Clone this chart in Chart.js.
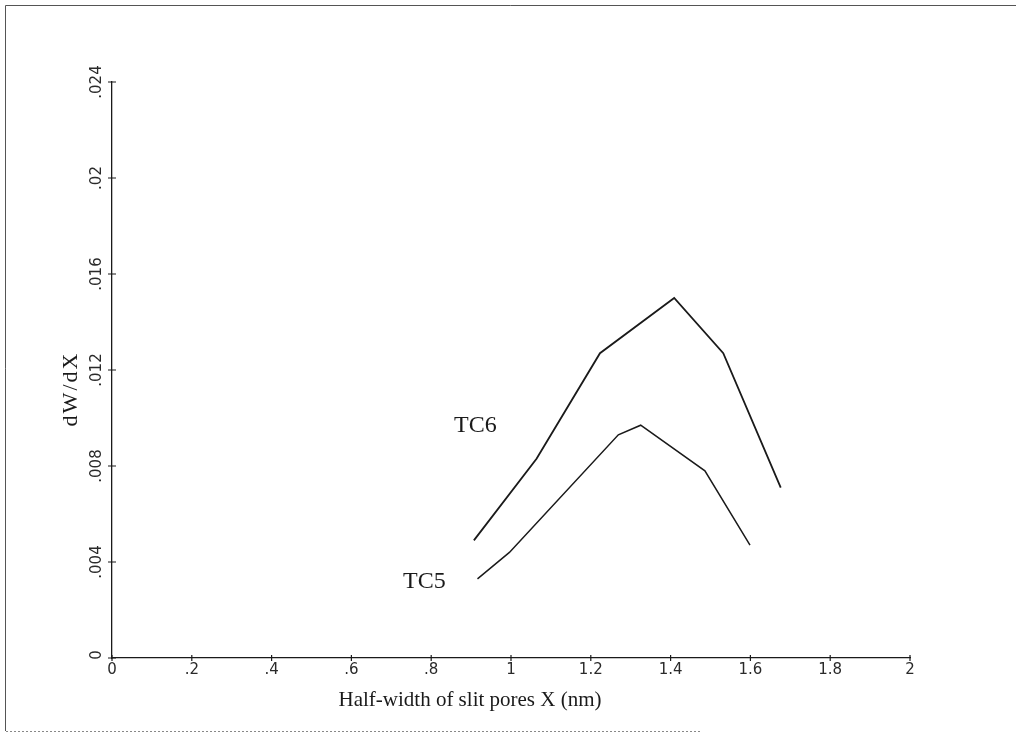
<!DOCTYPE html>
<html>
<head>
<meta charset="utf-8">
<title>dW/dX vs half-width of slit pores</title>
<script src="https://cdn.jsdelivr.net/npm/chart.js@4.4.1/dist/chart.umd.min.js"></script>
<style>
    html, body { margin: 0; padding: 0; background: #fff; }
    #wrap { position: relative; width: 1016px; height: 734px; }
</style>
</head>
<body>
<div id="wrap"><canvas id="chartPores" width="1016" height="734"></canvas></div>
<script>
(function () {
    'use strict';

    // pore-size distribution, two samples
    const TC6_X = [0.907, 1.064, 1.223, 1.409, 1.532, 1.676];
    const TC6_Y = [0.0049, 0.0083, 0.0127, 0.0150, 0.0127, 0.0071];
    const TC5_X = [0.916, 0.996, 1.269, 1.325, 1.486, 1.599];
    const TC5_Y = [0.0033, 0.0044, 0.0093, 0.0097, 0.0078, 0.0047];

    const X_TICKS = [0, 0.2, 0.4, 0.6, 0.8, 1, 1.2, 1.4, 1.6, 1.8, 2];
    const X_TICK_LABELS = ['0', '.2', '.4', '.6', '.8', '1', '1.2', '1.4', '1.6', '1.8', '2'];
    const Y_TICKS = [0, 0.004, 0.008, 0.012, 0.016, 0.02, 0.024];
    const Y_TICK_LABELS = ['0', '.004', '.008', '.012', '.016', '.02', '.024'];

    const INK = '#1a1a1a';
    const TICK_FONT = '15px "DejaVu Sans", sans-serif';
    const SERIF = '"Liberation Serif", "DejaVu Serif", serif';

    function pts(xs, ys) {
        return xs.map((x, i) => ({ x: x, y: ys[i] }));
    }

    // plotter-style axes: crossing tick marks, rotated y labels, titles, frame
    const plotterAxes = {
        id: 'plotterAxes',
        afterDraw(chart) {
            const ctx = chart.ctx;
            const xs = chart.scales.x;
            const ys = chart.scales.y;
            const x0 = xs.getPixelForValue(0);
            const y0 = ys.getPixelForValue(0);

            ctx.save();
            ctx.strokeStyle = INK;
            ctx.fillStyle = INK;
            ctx.lineWidth = 1.2;

            // x ticks
            ctx.beginPath();
            X_TICKS.forEach(v => {
                const px = xs.getPixelForValue(v);
                ctx.moveTo(px, y0 - 3);
                ctx.lineTo(px, y0 + 3);
            });
            // y ticks
            Y_TICKS.forEach(v => {
                const py = ys.getPixelForValue(v);
                ctx.moveTo(x0 - 4, py);
                ctx.lineTo(x0 + 4, py);
            });
            ctx.stroke();

            ctx.font = TICK_FONT;
            ctx.fillStyle = '#2a2a2a';
            ctx.textAlign = 'center';
            ctx.textBaseline = 'middle';
            X_TICKS.forEach((v, i) => {
                ctx.fillText(X_TICK_LABELS[i], xs.getPixelForValue(v), y0 + 12);
            });
            Y_TICKS.forEach((v, i) => {
                ctx.save();
                ctx.translate(x0 - 15, ys.getPixelForValue(v) - (v === 0 ? 3 : 0));
                ctx.rotate(-Math.PI / 2);
                ctx.fillText(Y_TICK_LABELS[i], 0, 0);
                ctx.restore();
            });

            // axis titles
            ctx.fillStyle = INK;
            ctx.font = '21px ' + SERIF;
            ctx.fillText('Half-width of slit pores X (nm)', 470, 700);
            ctx.save();
            ctx.translate(71, 389);
            ctx.rotate(-Math.PI / 2);
            ctx.font = '22px ' + SERIF;
            ctx.letterSpacing = '2px';
            ctx.fillText('dW/dX', 0, 0);
            ctx.restore();

            // series labels
            ctx.font = '24px ' + SERIF;
            ctx.textAlign = 'left';
            ctx.textBaseline = 'alphabetic';
            ctx.fillText('TC6', 454, 432);
            ctx.fillText('TC5', 403, 588);

            // page frame
            ctx.strokeStyle = '#555';
            ctx.lineWidth = 1;
            ctx.beginPath();
            ctx.moveTo(1016, 5.5);
            ctx.lineTo(5.5, 5.5);
            ctx.lineTo(5.5, 731);
            ctx.stroke();
            ctx.setLineDash([2, 2]);
            ctx.strokeStyle = '#888';
            ctx.beginPath();
            ctx.moveTo(6, 731.5);
            ctx.lineTo(700, 731.5);
            ctx.stroke();
            ctx.restore();
        }
    };

    const axisBase = {
        type: 'linear',
        ticks: { display: false },
        grid: { display: false, drawTicks: false },
        border: { display: true, color: INK, width: 1.3 },
        afterFit(scale) {
            if (scale.isHorizontal()) scale.height = 0; else scale.width = 0;
        }
    };

    new Chart(document.getElementById('chartPores'), {
        type: 'line',
        data: {
            datasets: [
                {
                    label: 'TC6',
                    data: pts(TC6_X, TC6_Y),
                    borderColor: INK,
                    borderWidth: 1.8,
                    pointRadius: 0,
                    tension: 0,
                    fill: false
                },
                {
                    label: 'TC5',
                    data: pts(TC5_X, TC5_Y),
                    borderColor: INK,
                    borderWidth: 1.5,
                    pointRadius: 0,
                    tension: 0,
                    fill: false
                }
            ]
        },
        options: {
            responsive: false,
            animation: false,
            layout: { padding: { left: 112, right: 106, top: 82, bottom: 76 } },
            plugins: {
                legend: { display: false },
                tooltip: { enabled: false }
            },
            scales: {
                x: Object.assign({}, axisBase, { min: 0, max: 2 }),
                y: Object.assign({}, axisBase, { min: 0, max: 0.024 })
            }
        },
        plugins: [plotterAxes]
    });
})();
</script>
</body>
</html>
